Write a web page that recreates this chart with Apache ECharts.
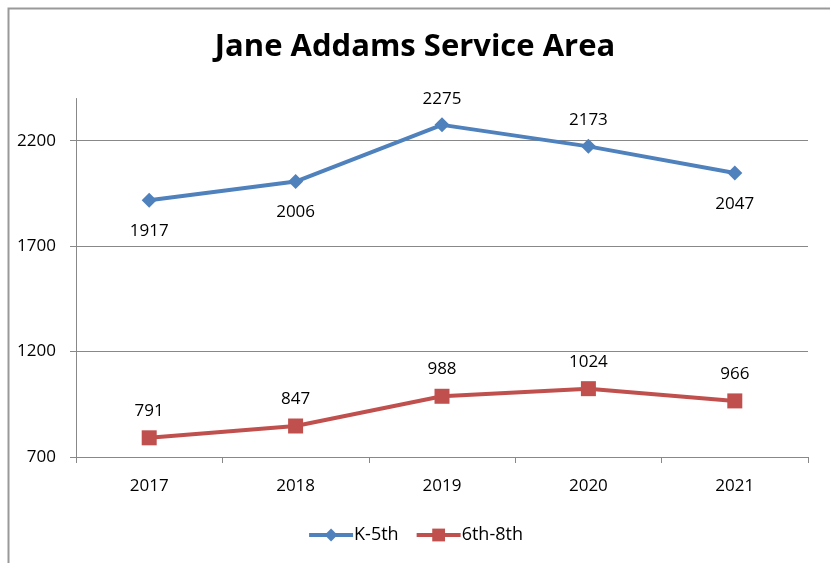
<!DOCTYPE html>
<html><head><meta charset="utf-8">
<script src="https://cdn.jsdelivr.net/npm/echarts@6/dist/echarts.min.js"></script>
<style>html,body{margin:0;padding:0;background:#fff}#c{width:830px;height:563px}</style>
</head><body><div id="c"></div>
<script>
const years = ['2017','2018','2019','2020','2021'];
const k5 = [1917, 2006, 2275, 2173, 2047];
const g68 = [791, 847, 988, 1024, 966];
const seriesNames = ['K-5th', '6th-8th'];

const k5LabelPos = ['bottom','bottom','top','top','bottom'];
const FONT = '"Open Sans", "Noto Sans", sans-serif';

const chart = echarts.init(document.getElementById('c'));
chart.setOption({
  animation: false,
  textStyle: { fontFamily: FONT },
  graphic: [{
    type: 'rect', left: 6, top: 6, shape: { width: 900, height: 700 },
    style: { fill: 'none', stroke: '#999', lineWidth: 2 }, z: -1
  }],
  title: {
    text: 'Jane Addams Service Area', left: 'center', top: 27,
    textStyle: { fontSize: 31, fontWeight: 'bold', color: '#000', fontFamily: FONT }
  },
  legend: {
    bottom: 14, left: 'center', itemWidth: 44, itemHeight: 16, itemGap: 16,
    lineStyle: { width: 4 },
    textStyle: { fontSize: 18, color: '#000', fontFamily: FONT, padding: [0,0,0,-4] },
    data: seriesNames
  },
  grid: { left: 76, right: 22, top: 98.5, bottom: 106 },
  xAxis: {
    type: 'category', data: years, boundaryGap: true,
    axisLine: { lineStyle: { color: '#888', width: 1 } },
    axisTick: { show: true, length: 6, lineStyle: { color: '#888' } },
    axisLabel: { fontSize: 17, color: '#000', margin: 21 }
  },
  yAxis: {
    type: 'value', min: 700, max: 2400, interval: 500,
    axisLine: { show: true, lineStyle: { color: '#888', width: 1 } },
    axisTick: { show: true, length: 6, lineStyle: { color: '#888' } },
    axisLabel: { fontSize: 17, color: '#000', margin: 20, showMaxLabel: false, formatter: v => String(v) },
    splitLine: { show: true, showMaxLine: false, lineStyle: { color: '#888', width: 1 } }
  },
  series: [
    {
      name: seriesNames[0], type: 'line',
      data: k5.map((v, i) => ({ value: v, label: { position: k5LabelPos[i], distance: k5LabelPos[i] === 'top' ? 10 : 15 } })),
      color: '#4F81BD', lineStyle: { width: 4 }, symbol: 'diamond', symbolSize: 15,
      itemStyle: { color: '#4F81BD' },
      label: { show: true, fontSize: 17, color: '#000', fontFamily: FONT }
    },
    {
      name: seriesNames[1], type: 'line', data: g68,
      color: '#C0504D', lineStyle: { width: 4 }, symbol: 'rect', symbolSize: 15,
      itemStyle: { color: '#C0504D' },
      label: { show: true, position: 'top', fontSize: 17, color: '#000', distance: 11, fontFamily: FONT }
    }
  ]
});
</script></body></html>
